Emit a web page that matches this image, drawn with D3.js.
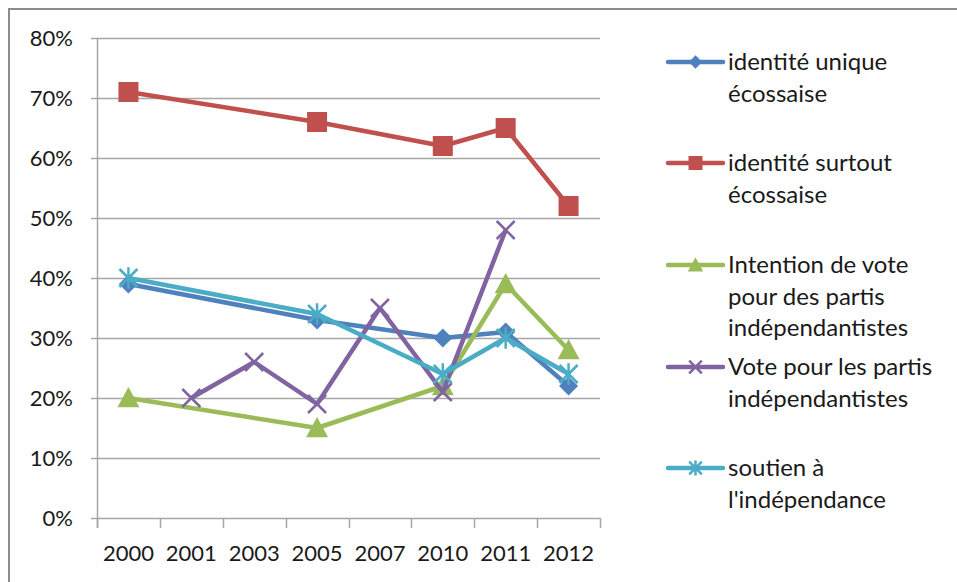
<!DOCTYPE html>
<html>
<head>
<meta charset="utf-8">
<script src="https://cdn.jsdelivr.net/npm/d3@7"></script>
<style>
  body { margin: 0; background: #fff; }
  svg { display: block; font-family: Lato, "Open Sans", sans-serif; }
</style>
</head>
<body>
<svg id="chart" width="957" height="582"></svg>
<script>
// Categories (x axis) and series
const years = ["2000", "2001", "2003", "2005", "2007", "2010", "2011", "2012"];
const yTicks = [0, 0.1, 0.2, 0.3, 0.4, 0.5, 0.6, 0.7, 0.8];

const uniqueScottish = [0.39, null, null, 0.33, null, 0.30, 0.31, 0.22];
const mostlyScottish = [0.71, null, null, 0.66, null, 0.62, 0.65, 0.52];
const voteIntention = [0.20, null, null, 0.15, null, 0.22, 0.39, 0.28];
const voteIndependence = [null, 0.20, 0.26, 0.19, 0.35, 0.21, 0.48, null];
const supportIndependence = [0.40, null, null, 0.34, null, 0.24, 0.30, 0.24];

const seriesNames = [
  ["identité unique", "écossaise"],
  ["identité surtout", "écossaise"],
  ["Intention de vote", "pour des partis", "indépendantistes"],
  ["Vote pour les partis", "indépendantistes"],
  ["soutien à", "l'indépendance"]
];
const seriesValues = [uniqueScottish, mostlyScottish, voteIntention, voteIndependence, supportIndependence];
const seriesColors = ["#4F81BD", "#C0504D", "#9BBB59", "#8064A2", "#4BACC6"];
const seriesMarkers = ["diamond", "square", "triangle", "cross", "star"];

const svg = d3.select("#chart");
const plot = { left: 97, right: 600, top: 38, bottom: 518 };

// Outer chart border (the reference is cropped, only top and left show)
svg.append("path")
  .attr("d", "M9,582 L9,9 L957,9")
  .attr("fill", "none")
  .attr("stroke", "#8c8c8c")
  .attr("stroke-width", 2);

const x = d3.scaleBand().domain(years).range([plot.left, plot.right]);
const y = d3.scaleLinear().domain([0, 0.8]).range([plot.bottom, plot.top]);

// Horizontal gridlines
svg.append("g").selectAll("line")
  .data(yTicks)
  .join("line")
  .attr("x1", plot.left - 6)
  .attr("x2", plot.right)
  .attr("y1", (tick) => Math.round(y(tick)) + 0.5)
  .attr("y2", (tick) => Math.round(y(tick)) + 0.5)
  .attr("stroke", "#a6a6a6")
  .attr("stroke-width", 1.5);

// Y axis line
svg.append("line")
  .attr("x1", plot.left + 0.5).attr("x2", plot.left + 0.5)
  .attr("y1", plot.top).attr("y2", plot.bottom + 10)
  .attr("stroke", "#a6a6a6").attr("stroke-width", 1.5);

// X tick marks at band boundaries
const boundaries = years.map((year) => x(year)).concat([plot.right]);
svg.append("g").selectAll("line")
  .data(boundaries)
  .join("line")
  .attr("x1", (pos) => Math.round(pos) + 0.5)
  .attr("x2", (pos) => Math.round(pos) + 0.5)
  .attr("y1", plot.bottom)
  .attr("y2", plot.bottom + 10)
  .attr("stroke", "#a6a6a6")
  .attr("stroke-width", 1.5);

// Y tick labels
svg.append("g").selectAll("text")
  .data(yTicks)
  .join("text")
  .attr("x", 73)
  .attr("y", (tick) => y(tick))
  .attr("dy", "0.35em")
  .attr("text-anchor", "end")
  .attr("font-size", 22)
  .attr("fill", "#1a1a1a")
  .text((tick) => d3.format(".0%")(tick));

// X tick labels
svg.append("g").selectAll("text")
  .data(years)
  .join("text")
  .attr("x", (year) => x(year) + x.bandwidth() / 2)
  .attr("y", 553)
  .attr("dy", "0.35em")
  .attr("text-anchor", "middle")
  .attr("font-size", 22)
  .attr("fill", "#1a1a1a")
  .text((year) => year);

// Marker drawing
function drawMarker(group, type, color, scale) {
  const r = 10 * scale;
  if (type === "diamond") {
    const d = 9.5 * scale;
    group.append("path")
      .attr("d", `M0,${-d}L${d},0L0,${d}L${-d},0Z`)
      .attr("fill", color);
  } else if (type === "square") {
    group.append("rect")
      .attr("x", -r).attr("y", -r).attr("width", 2 * r).attr("height", 2 * r)
      .attr("fill", color);
  } else if (type === "triangle") {
    const h = 11 * scale;
    group.append("path")
      .attr("d", `M0,${-h}L${h},${h * 0.85}L${-h},${h * 0.85}Z`)
      .attr("fill", color);
  } else if (type === "cross" || type === "star") {
    const c = 9 * scale;
    group.append("path")
      .attr("d", `M${-c},${-c}L${c},${c}M${-c},${c}L${c},${-c}` + (type === "star" ? `M0,${-c * 1.2}L0,${c * 1.2}` : ""))
      .attr("fill", "none")
      .attr("stroke", color)
      .attr("stroke-width", 2.5);
  }
}

const lineGen = d3.line()
  .x((point) => x(point.year) + x.bandwidth() / 2)
  .y((point) => y(point.value));

seriesValues.forEach((values, index) => {
  const points = years
    .map((year, i) => ({ year, value: values[i] }))
    .filter((point) => point.value != null);
  const color = seriesColors[index];

  svg.append("path")
    .datum(points)
    .attr("d", lineGen)
    .attr("fill", "none")
    .attr("stroke", color)
    .attr("stroke-width", 4.5)
    .attr("stroke-linejoin", "round");

  points.forEach((point) => {
    const g = svg.append("g")
      .attr("transform", `translate(${x(point.year) + x.bandwidth() / 2},${y(point.value)})`);
    drawMarker(g, seriesMarkers[index], color, 1);
  });
});

// Legend
const legendY = [62, 163, 265, 367, 468];
const lineHeight = 31.5;
seriesNames.forEach((labelLines, index) => {
  const color = seriesColors[index];
  const rowY = legendY[index];
  svg.append("line")
    .attr("x1", 668).attr("x2", 723)
    .attr("y1", rowY).attr("y2", rowY)
    .attr("stroke", color)
    .attr("stroke-width", 4.5)
    .attr("stroke-linecap", "round");
  const g = svg.append("g").attr("transform", `translate(695.5,${rowY})`);
  drawMarker(g, seriesMarkers[index], color, 0.7);

  svg.append("g").selectAll("text")
    .data(labelLines)
    .join("text")
    .attr("x", 728)
    .attr("y", (line, i) => rowY + i * lineHeight)
    .attr("dy", "0.35em")
    .attr("font-size", 24)
    .attr("fill", "#1a1a1a")
    .text((line) => line);
});
</script>
</body>
</html>
